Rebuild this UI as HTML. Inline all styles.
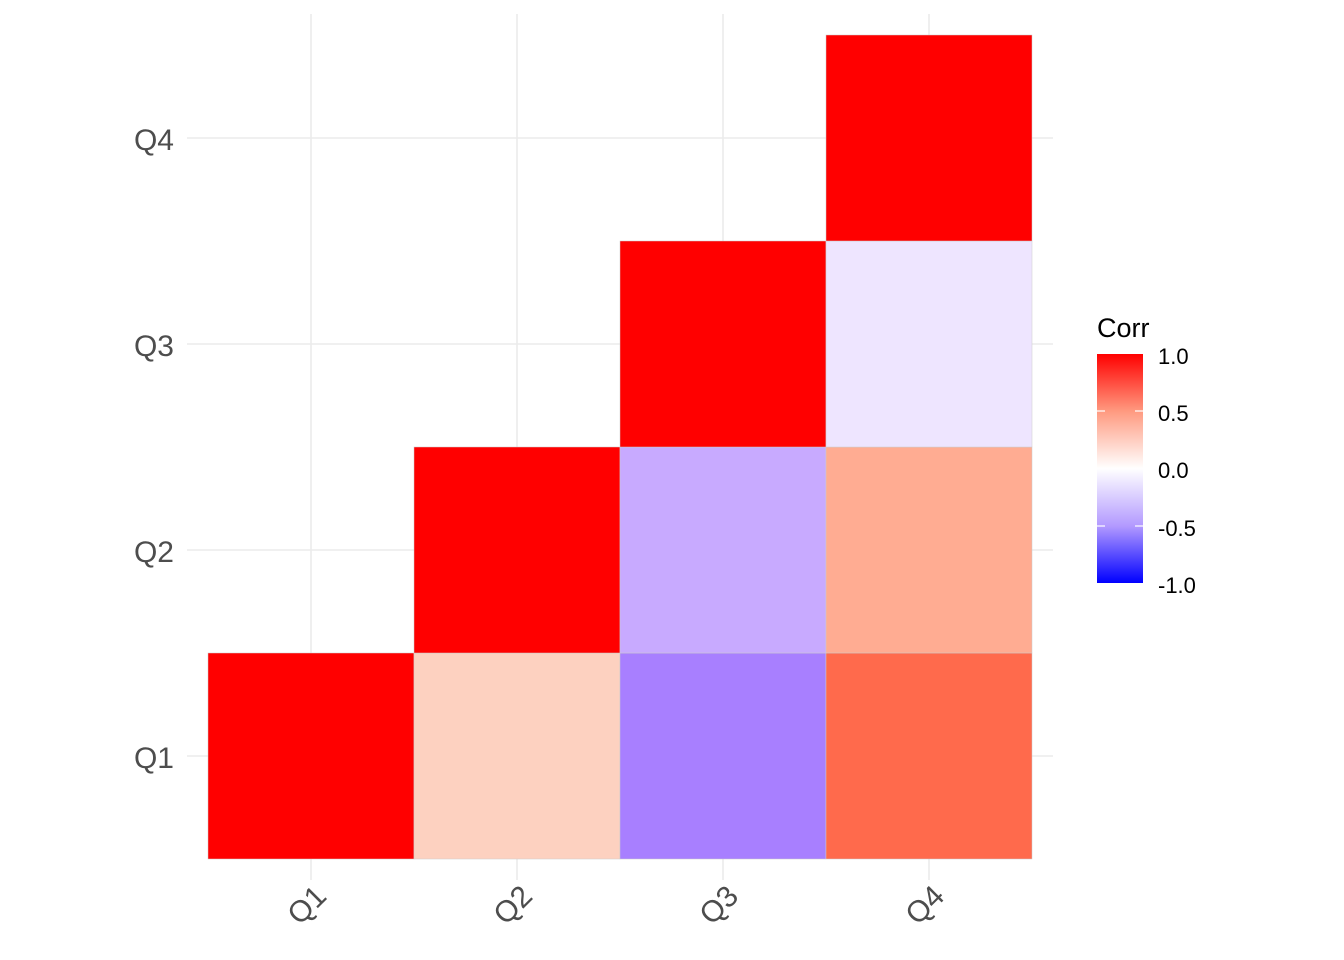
<!DOCTYPE html>
<html><head><style>
html,body{margin:0;padding:0;background:#fff;}
svg{display:block;}
text{font-family:"Liberation Sans",Arial,sans-serif;}
</style></head><body>
<svg width="1344" height="960" viewBox="0 0 1344 960" xmlns="http://www.w3.org/2000/svg">
<defs>
<linearGradient id="g" x1="0" y1="0" x2="0" y2="1">
<stop offset="0" stop-color="#FF0000"/>
<stop offset="0.25" stop-color="#FF9A80"/>
<stop offset="0.5" stop-color="#FFFFFF"/>
<stop offset="0.75" stop-color="#B39AFF"/>
<stop offset="1" stop-color="#0000FF"/>
</linearGradient>
</defs>
<rect width="1344" height="960" fill="#fff"/>
<g stroke="#EBEBEB" stroke-width="1.6">
<line x1="311" y1="14" x2="311" y2="880"/>
<line x1="517" y1="14" x2="517" y2="880"/>
<line x1="723" y1="14" x2="723" y2="880"/>
<line x1="929" y1="14" x2="929" y2="880"/>
<line x1="187" y1="138" x2="1053" y2="138"/>
<line x1="187" y1="344" x2="1053" y2="344"/>
<line x1="187" y1="550" x2="1053" y2="550"/>
<line x1="187" y1="756" x2="1053" y2="756"/>
</g>
<g stroke="#CCCCCC" stroke-width="0.5">
<rect x="208" y="653" width="206" height="206" fill="#FF0000"/>
<rect x="414" y="653" width="206" height="206" fill="#FDD1C0"/>
<rect x="620" y="653" width="206" height="206" fill="#A87FFF"/>
<rect x="826" y="653" width="206" height="206" fill="#FF6A4C"/>
<rect x="414" y="447" width="206" height="206" fill="#FF0000"/>
<rect x="620" y="447" width="206" height="206" fill="#C8AAFF"/>
<rect x="826" y="447" width="206" height="206" fill="#FFAC92"/>
<rect x="620" y="241" width="206" height="206" fill="#FF0000"/>
<rect x="826" y="241" width="206" height="206" fill="#EEE5FF"/>
<rect x="826" y="35" width="206" height="206" fill="#FF0000"/>
</g>
<g font-size="30" fill="#4D4D4D" text-anchor="end">
<text x="174" y="150">Q4</text>
<text x="174" y="356">Q3</text>
<text x="174" y="562">Q2</text>
<text x="174" y="768">Q1</text>
</g>
<g font-size="30" fill="#4D4D4D" text-anchor="end">
<text transform="translate(328,898) rotate(-45)">Q1</text>
<text transform="translate(534,898) rotate(-45)">Q2</text>
<text transform="translate(740,898) rotate(-45)">Q3</text>
<text transform="translate(946,898) rotate(-45)">Q4</text>
</g>
<text x="1097" y="337" font-size="27" fill="#000">Corr</text>
<rect x="1097" y="354" width="46" height="229" fill="url(#g)"/>
<g stroke="#fff" stroke-width="1.2">
<line x1="1097" y1="411" x2="1105" y2="411"/><line x1="1135" y1="411" x2="1143" y2="411"/>
<line x1="1097" y1="526" x2="1105" y2="526"/><line x1="1135" y1="526" x2="1143" y2="526"/>
</g>
<g font-size="22" fill="#000">
<text x="1158" y="364">1.0</text>
<text x="1158" y="421">0.5</text>
<text x="1158" y="478">0.0</text>
<text x="1158" y="536">-0.5</text>
<text x="1158" y="593">-1.0</text>
</g>
</svg>
</body></html>
